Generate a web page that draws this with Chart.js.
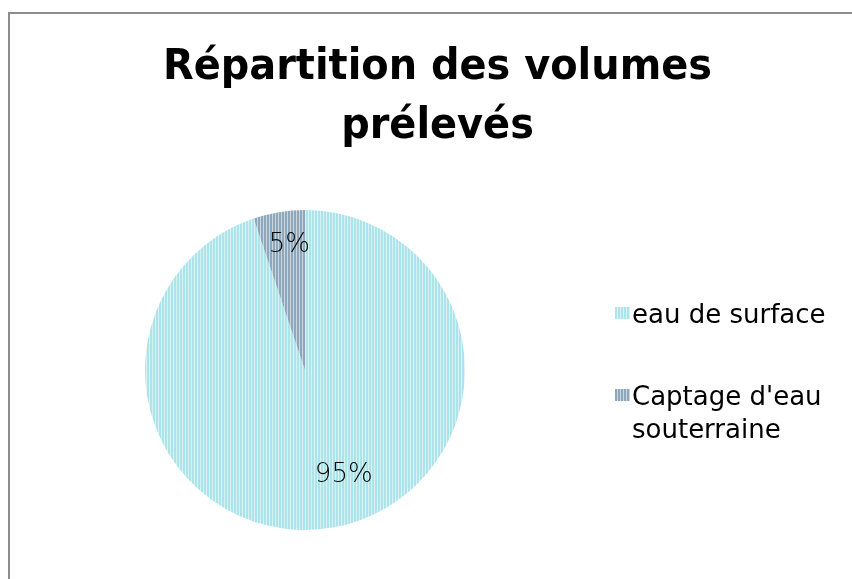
<!DOCTYPE html>
<html>
<head>
<meta charset="utf-8">
<script src="https://cdn.jsdelivr.net/npm/chart.js@4/dist/chart.umd.min.js"></script>
<style>
  html, body { margin: 0; padding: 0; background: #fff; }
  #c { display: block; }
</style>
</head>
<body>
<canvas id="c" width="852" height="579"></canvas>
<script>
// ---- data ----
const titleLines = ["Répartition des volumes", "prélevés"];
const categories = ["eau de surface", "Captage d'eau souterraine"];
const legendLines = [["eau de surface"], ["Captage d'eau", "souterraine"]];
const values = [94.8, 5.2];

// ---- styles ----
function stripePattern(dark, light) {
  const p = document.createElement('canvas');
  p.width = 3; p.height = 3;
  const g = p.getContext('2d');
  g.fillStyle = dark; g.fillRect(0, 0, 3, 3);
  g.fillStyle = light; g.fillRect(2, 0, 1, 3);
  return document.getElementById('c').getContext('2d').createPattern(p, 'repeat');
}
const fills = [stripePattern('#ade4e9', '#d8f3f5'), stripePattern('#8fa7ba', '#cbd7e0')];
const labelNudge = [[20, -8], [5, 0]];

const decor = {
  id: 'decor',
  beforeDraw(chart) {
    const ctx = chart.ctx;
    ctx.save();
    ctx.fillStyle = '#fff';
    ctx.fillRect(0, 0, chart.width, chart.height);
    ctx.strokeStyle = '#8c8c8c';
    ctx.lineWidth = 2;
    ctx.strokeRect(9, 13, chart.width + 20, chart.height + 20);
    ctx.restore();
  },
  afterDraw(chart) {
    const ctx = chart.ctx;
    ctx.save();
    // title (horizontally fitted to the original width)
    ctx.fillStyle = '#000';
    ctx.textAlign = 'center';
    ctx.textBaseline = 'alphabetic';
    ctx.font = 'bold 43px "DejaVu Sans"';
    const w0 = ctx.measureText(titleLines[0]).width;
    const sx = 549 / w0;
    titleLines.forEach((t, i) => {
      ctx.save();
      ctx.translate(437.5, 79 + i * 59);
      ctx.scale(sx, 1);
      ctx.fillText(t, 0, 0);
      ctx.restore();
    });

    // data labels
    const meta = chart.getDatasetMeta(0);
    const total = values.reduce((a, b) => a + b, 0);
    ctx.textBaseline = 'middle';
    ctx.font = '200 26px "DejaVu Sans"';
    ctx.fillStyle = '#000';
    const frac = [0.72, 0.79];
    meta.data.forEach((arc, i) => {
      const mid = (arc.startAngle + arc.endAngle) / 2;
      const r = arc.outerRadius * frac[i];
      const x = arc.x + Math.cos(mid) * r + labelNudge[i][0];
      const y = arc.y + Math.sin(mid) * r + labelNudge[i][1];
      ctx.fillText(Math.round(values[i] / total * 100) + '%', x, y);
    });

    // legend
    ctx.textAlign = 'left';
    ctx.font = '26px "DejaVu Sans"';
    const itemY = [313, 395];
    legendLines.forEach((lines, i) => {
      ctx.fillStyle = fills[i];
      ctx.fillRect(615, itemY[i] - 6, 15, 12);
      ctx.fillStyle = '#000';
      lines.forEach((ln, j) => ctx.fillText(ln, 632, itemY[i] + 3 + j * 33));
    });
    ctx.restore();
  }
};

new Chart(document.getElementById('c'), {
  type: 'pie',
  data: {
    labels: categories,
    datasets: [{
      data: values,
      backgroundColor: fills,
      borderWidth: 0
    }]
  },
  options: {
    responsive: false,
    animation: false,
    layout: { padding: { left: 145, right: 387, top: 210, bottom: 49 } },
    plugins: {
      legend: { display: false },
      title: { display: false },
      tooltip: { enabled: false }
    }
  },
  plugins: [decor]
});
</script>
</body>
</html>
